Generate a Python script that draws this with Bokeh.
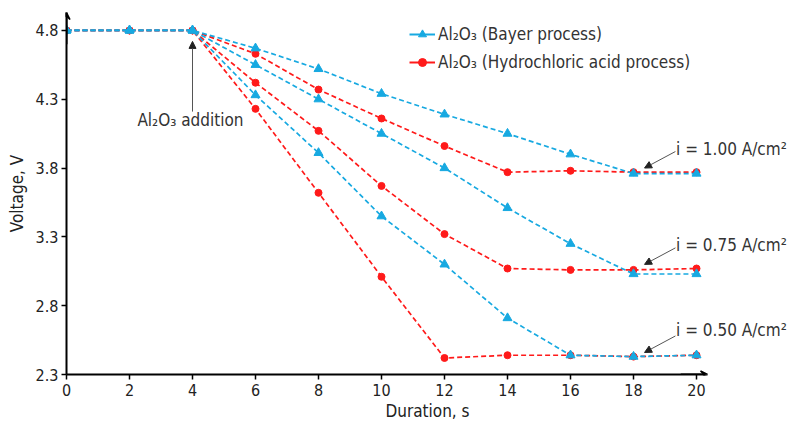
from bokeh.plotting import figure
from bokeh.models import Range1d, FixedTicker, Arrow, NormalHead, VeeHead, Legend, LegendItem, Label
from bokeh.embed import file_html
from bokeh.resources import INLINE

duration = [0, 2, 4, 6, 8, 10, 12, 14, 16, 18, 20]

bayer_100 = [4.8, 4.8, 4.8, 4.67, 4.52, 4.34, 4.19, 4.05, 3.90, 3.76, 3.76]
bayer_075 = [4.8, 4.8, 4.8, 4.55, 4.30, 4.05, 3.80, 3.51, 3.25, 3.03, 3.03]
bayer_050 = [4.8, 4.8, 4.8, 4.33, 3.91, 3.45, 3.10, 2.71, 2.44, 2.43, 2.44]

hcl_100 = [4.8, 4.8, 4.8, 4.63, 4.37, 4.16, 3.96, 3.77, 3.78, 3.77, 3.77]
hcl_075 = [4.8, 4.8, 4.8, 4.42, 4.07, 3.67, 3.32, 3.07, 3.06, 3.06, 3.07]
hcl_050 = [4.8, 4.8, 4.8, 4.23, 3.62, 3.01, 2.42, 2.44, 2.44, 2.43, 2.44]

x_ticks = [0, 2, 4, 6, 8, 10, 12, 14, 16, 18, 20]
y_ticks = [2.3, 2.8, 3.3, 3.8, 4.3, 4.8]
y_tick_labels = ["2.3", "2.8", "3.3", "3.8", "4.3", "4.8"]

legend_labels = ["Al\u2082O\u2083 (Bayer process)", "Al\u2082O\u2083 (Hydrochloric acid process)"]
current_labels = ["i = 1.00 A/cm\u00b2", "i = 0.75 A/cm\u00b2", "i = 0.50 A/cm\u00b2"]
current_label_pos = [(19.35, 3.94), (19.35, 3.24), (19.35, 2.62)]
current_arrows = [((19.33, 3.92), (18.35, 3.80)), ((19.33, 3.22), (18.35, 3.10)), ((19.33, 2.58), (18.35, 2.46))]

CYAN = "#17a9e1"
RED = "#ff1a1a"
FONT = "DejaVu Sans Condensed, Roboto Condensed, Roboto"
TXT = "#333333"

p = figure(width=793, height=423, output_backend="svg", toolbar_location=None,
           x_range=Range1d(0, 22.92), y_range=Range1d(2.3, 4.93),
           min_border_left=66, min_border_right=5, min_border_top=12, min_border_bottom=49)
p.outline_line_color = None
p.grid.visible = False
p.background_fill_color = "white"

for ax in (p.xaxis[0], p.yaxis[0]):
    ax.axis_line_width = 2
    ax.axis_line_color = "black"
    ax.major_tick_out = 5
    ax.major_tick_in = 0
    ax.major_tick_line_width = 1.5
    ax.minor_tick_line_color = None
    ax.major_label_text_font = FONT
    ax.major_label_text_font_size = "16px"
    ax.major_label_text_color = "#222222"
    ax.axis_label_text_font = FONT
    ax.axis_label_text_font_size = "17px"
    ax.axis_label_text_font_style = "normal"
    ax.axis_label_text_color = "#222222"

p.xaxis.bounds = (0, 20.3)
p.xaxis.ticker = FixedTicker(ticks=x_ticks)
p.yaxis.ticker = FixedTicker(ticks=y_ticks)
p.yaxis.major_label_overrides = {t: l for t, l in zip(y_ticks, y_tick_labels)}
p.xaxis.axis_label = "Duration, s"
p.yaxis.axis_label = "Voltage, V"
p.xaxis.major_label_standoff = 4
p.xaxis.axis_label_standoff = 2
p.yaxis.major_label_standoff = 3
p.yaxis.axis_label_standoff = 6

dash = "5 3"
for ys in (hcl_100, hcl_075, hcl_050):
    p.line(duration, ys, color=RED, line_width=1.7, line_dash=dash)
    p.scatter(duration, ys, marker="circle", size=7, color=RED)
for ys in (bayer_100, bayer_075, bayer_050):
    p.line(duration, ys, color=CYAN, line_width=1.7, line_dash=dash)
    p.scatter(duration, ys, marker="triangle", size=9, color=CYAN)

# axis arrows
p.add_layout(Arrow(end=VeeHead(size=7, line_color="black", fill_color="black", line_width=1.5),
                   x_start=0, y_start=4.7, x_end=0, y_end=4.93, line_width=2, line_color="black"))
p.add_layout(Arrow(end=VeeHead(size=7, line_color="black", fill_color="black", line_width=1.5),
                   x_start=19.5, y_start=2.3, x_end=20.35, y_end=2.3, line_width=2, line_color="black"))

# legend with solid lines (renderers placed outside the visible range)
lg_b = p.line([-5, -4], [0, 0], color=CYAN, line_width=2)
lg_bs = p.scatter([-5], [0], marker="triangle", size=9, color=CYAN)
lg_r = p.line([-5, -4], [0, 0], color=RED, line_width=2)
lg_rs = p.scatter([-5], [0], marker="circle", size=7, color=RED)
legend = Legend(items=[LegendItem(label=legend_labels[0], renderers=[lg_b, lg_bs]),
                       LegendItem(label=legend_labels[1], renderers=[lg_r, lg_rs])],
                location=(343, 299), border_line_color=None, background_fill_alpha=0,
                label_text_font=FONT, label_text_font_size="17px", label_text_color=TXT,
                glyph_width=26, spacing=2, padding=0, label_standoff=3, label_height=26)
p.add_layout(legend)

# Al2O3 addition annotation
p.add_layout(Arrow(end=NormalHead(size=7, fill_color="#222222", line_color="#222222"),
                   x_start=4, y_start=4.21, x_end=4, y_end=4.72, line_width=1, line_color="#555555"))
p.add_layout(Label(x=2.25, y=4.15, text="Al\u2082O\u2083 addition", text_font=FONT,
                   text_font_size="17px", text_color=TXT, text_baseline="middle"))

for (lx, ly), txt, ((xs, ys_), (xe, ye)) in zip(current_label_pos, current_labels, current_arrows):
    p.add_layout(Label(x=lx, y=ly, text=txt, text_font=FONT, text_font_size="17px",
                       text_color=TXT, text_baseline="middle"))
    p.add_layout(Arrow(end=NormalHead(size=7, fill_color="#222222", line_color="#222222"),
                       x_start=xs, y_start=ys_, x_end=xe, y_end=ye, line_width=1, line_color="#555555"))

open("out.html", "w").write(file_html(p, INLINE))
